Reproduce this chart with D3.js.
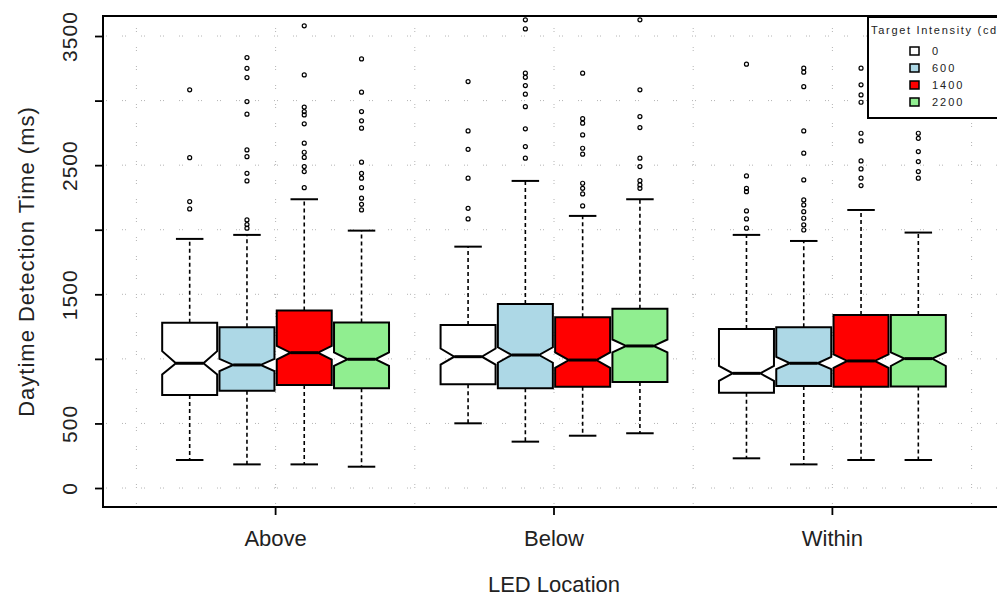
<!DOCTYPE html>
<html>
<head>
<meta charset="utf-8">
<script src="https://cdn.jsdelivr.net/npm/d3@7"></script>
<style>
  body { margin: 0; background: #fff; }
  svg { display: block; font-family: 'Liberation Sans', Arial, sans-serif; }
</style>
</head>
<body>
<svg id="canvas"></svg>
<script>
// values, per location (Above, Below, Within) and intensity (0, 600, 1400, 2200)
const locations = ['Above', 'Below', 'Within']
const intensities = ['0', '600', '1400', '2200']
const boxColors = ['#ffffff', '#add8e6', '#ff0000', '#90ee90']

const lowerWhisker = [[217, 183, 183, 165], [501, 359, 405, 424], [230, 183, 217, 217]]
const lowerQuartile = [[720, 754, 798, 772], [803, 772, 785, 821], [738, 790, 785, 786]]
const medians = [[966, 953, 1048, 997], [1017, 1030, 991, 1100], [888, 966, 984, 1002]]
const upperQuartile = [[1280, 1245, 1374, 1281], [1263, 1425, 1322, 1389], [1232, 1245, 1340, 1340]]
const upperWhisker = [[1929, 1960, 2236, 1993], [1869, 2378, 2107, 2236], [1960, 1913, 2153, 1978]]
const notchLow = [[880, 905, 995, 945], [955, 970, 930, 1050], [830, 920, 930, 945]]
const notchHigh = [[1060, 1000, 1100, 1050], [1080, 1090, 1050, 1150], [945, 1015, 1035, 1050]]

const outliers = [
  [[3083, 2558, 2218, 2161],
   [3333, 3250, 3178, 2992, 2895, 2618, 2566, 2437, 2378, 2076, 2040, 2012],
   [3579, 3199, 2950, 2915, 2889, 2820, 2670, 2600, 2560, 2489, 2450, 2326],
   [3323, 3065, 2915, 2843, 2786, 2523, 2437, 2399, 2326, 2244, 2197, 2153]],
  [[3147, 2765, 2623, 2399, 2166, 2084],
   [3625, 3555, 3212, 3180, 3116, 3050, 2953, 2781, 2644, 2554],
   [3212, 2860, 2825, 2734, 2631, 2585, 2360, 2321, 2277, 2184],
   [3625, 3083, 2876, 2791, 2554, 2489, 2380, 2347, 2321]],
  [[3282, 2417, 2321, 2295, 2146, 2084, 2012],
   [3251, 3220, 3108, 2765, 2593, 2386, 2231, 2192, 2140, 2089, 2037, 1998],
   [3251, 3122, 3044, 2987, 2747, 2688, 2533, 2471, 2399, 2342],
   [2747, 2708, 2605, 2528, 2450, 2399]]
]

const yTickValues = [0, 500, 1000, 1500, 2000, 2500, 3000, 3500]
const yTickLabels = ['0', '500', '', '1500', '', '2500', '', '3500']

const w = 997
const h = 596
const canvas = d3.select('#canvas').attr('width', w).attr('height', h)
const fontFamily = "'Liberation Sans', Arial, sans-serif"

// plot box runs a little past the right edge of the picture, like the reference crop
const x = d3.scaleLinear().domain([0.76, 7.24]).range([103, 1005])
const y = d3.scaleLinear().domain([-147, 3655]).range([507, 16])

const xGroup = d3.scaleBand().domain(locations).range([x(1), x(7)])
const xInner = d3.scaleBand().domain(intensities).range([0, xGroup.bandwidth()])
                 .paddingInner(0.04).paddingOuter(0.45)

const boxes = []
locations.forEach((loc, g) => {
  intensities.forEach((lev, i) => {
    boxes.push({
      loc, lev, color: boxColors[i],
      lw: lowerWhisker[g][i], q1: lowerQuartile[g][i], med: medians[g][i],
      q3: upperQuartile[g][i], uw: upperWhisker[g][i],
      nLo: notchLow[g][i], nHi: notchHigh[g][i], out: outliers[g][i]
    })
  })
})

const cx = b => xGroup(b.loc) + xInner(b.lev) + xInner.bandwidth() / 2
const hw = xInner.bandwidth() / 2
const notchFrac = 0.5

const generateGrid = () => {
  const grid = canvas.append('g')
                     .attr('stroke', '#b4b4b4')
                     .attr('stroke-width', 1)
                     .attr('stroke-dasharray', '1,2,1,15')
  grid.selectAll('.gx')
      .data(x.ticks(7))
      .enter()
      .append('line')
      .attr('x1', d => x(d)).attr('x2', d => x(d))
      .attr('y1', y.range()[0]).attr('y2', y.range()[1])
  grid.selectAll('.gy')
      .data(yTickValues)
      .enter()
      .append('line')
      .attr('x1', x.range()[0]).attr('x2', x.range()[1])
      .attr('y1', d => y(d)).attr('y2', d => y(d))
}

const generateBoxes = () => {
  const g = canvas.append('g')

  // dashed whiskers
  g.selectAll('.whisker')
   .data(boxes.flatMap(b => [[b, b.q3, b.uw], [b, b.q1, b.lw]]))
   .enter()
   .append('line')
   .attr('x1', d => cx(d[0])).attr('x2', d => cx(d[0]))
   .attr('y1', d => y(d[1])).attr('y2', d => y(d[2]))
   .attr('stroke', '#000')
   .attr('stroke-width', 1.6)
   .attr('stroke-dasharray', '4,3')

  // staples
  g.selectAll('.staple')
   .data(boxes.flatMap(b => [[b, b.uw], [b, b.lw]]))
   .enter()
   .append('line')
   .attr('x1', d => cx(d[0]) - hw / 2).attr('x2', d => cx(d[0]) + hw / 2)
   .attr('y1', d => y(d[1])).attr('y2', d => y(d[1]))
   .attr('stroke', '#000')
   .attr('stroke-width', 2)

  // notched boxes
  g.selectAll('.box')
   .data(boxes)
   .enter()
   .append('path')
   .attr('d', b => {
     const c = cx(b)
     const nw = hw * notchFrac
     const pts = [[c - hw, y(b.q1)], [c + hw, y(b.q1)], [c + hw, y(b.nLo)], [c + nw, y(b.med)],
                  [c + hw, y(b.nHi)], [c + hw, y(b.q3)], [c - hw, y(b.q3)], [c - hw, y(b.nHi)],
                  [c - nw, y(b.med)], [c - hw, y(b.nLo)]]
     return d3.line()(pts) + 'Z'
   })
   .attr('fill', b => b.color)
   .attr('stroke', '#000')
   .attr('stroke-width', 2)

  // medians
  g.selectAll('.median')
   .data(boxes)
   .enter()
   .append('line')
   .attr('x1', b => cx(b) - hw * notchFrac).attr('x2', b => cx(b) + hw * notchFrac)
   .attr('y1', b => y(b.med)).attr('y2', b => y(b.med))
   .attr('stroke', '#000')
   .attr('stroke-width', 3)

  // outliers
  g.selectAll('.outlier')
   .data(boxes.flatMap(b => b.out.map(v => [b, v])))
   .enter()
   .append('circle')
   .attr('cx', d => cx(d[0]))
   .attr('cy', d => y(d[1]))
   .attr('r', 2)
   .attr('fill', 'none')
   .attr('stroke', '#000')
   .attr('stroke-width', 1.2)
}

const generateAxes = () => {
  canvas.append('rect')
        .attr('x', x.range()[0]).attr('y', y.range()[1])
        .attr('width', x.range()[1] - x.range()[0])
        .attr('height', y.range()[0] - y.range()[1])
        .attr('fill', 'none')
        .attr('stroke', '#000')
        .attr('stroke-width', 2)

  const yAxis = d3.axisLeft(y)
                  .tickValues(yTickValues)
                  .tickFormat((d, i) => yTickLabels[i])
                  .tickSize(8)
  canvas.append('g')
        .attr('transform', `translate(${x.range()[0]},0)`)
        .call(yAxis)
        .call(a => a.select('.domain').remove())
        .call(a => a.selectAll('line').attr('stroke', '#000').attr('stroke-width', 1.8))
        .selectAll('text')
        .attr('transform', 'rotate(-90)')
        .attr('x', 0).attr('y', -33).attr('dy', '0.35em')
        .attr('text-anchor', 'middle')
        .attr('font-size', 21)
        .attr('font-family', fontFamily)
        .attr('letter-spacing', 1)
        .attr('fill', '#222')

  const xAxis = d3.axisBottom(xGroup).tickSize(8).tickPadding(15)
  canvas.append('g')
        .attr('transform', `translate(0,${y.range()[0]})`)
        .call(xAxis)
        .call(a => a.select('.domain').remove())
        .call(a => a.selectAll('line').attr('stroke', '#000').attr('stroke-width', 1.8))
        .selectAll('text')
        .attr('font-size', 22)
        .attr('font-family', fontFamily)
        .attr('fill', '#222')

  canvas.append('text')
        .attr('x', xGroup('Below') + xGroup.bandwidth() / 2)
        .attr('y', 592)
        .attr('text-anchor', 'middle')
        .attr('font-size', 22)
        .attr('fill', '#222')
        .text('LED Location')

  canvas.append('text')
        .attr('transform', `translate(34,${(y.range()[0] + y.range()[1]) / 2}) rotate(-90)`)
        .attr('text-anchor', 'middle')
        .attr('font-size', 22)
        .attr('letter-spacing', 1)
        .attr('fill', '#222')
        .text('Daytime Detection Time (ms)')
}

const generateLegend = () => {
  const legend = canvas.append('g').attr('transform', 'translate(868,17)')
  legend.append('rect')
        .attr('width', 160).attr('height', 101)
        .attr('fill', '#fff')
        .attr('stroke', '#000')
        .attr('stroke-width', 2)
  // the reference crop cuts this title at the right edge
  legend.append('text')
        .attr('x', 3).attr('y', 17)
        .attr('font-size', 11)
        .attr('letter-spacing', 1.7)
        .attr('fill', '#222')
        .text('Target Intensity (cd/m²)')
  const items = legend.selectAll('.item')
                      .data(intensities)
                      .enter()
                      .append('g')
                      .attr('transform', (d, i) => `translate(0,${34 + i * 17})`)
  items.append('rect')
       .attr('x', 42).attr('y', -4).attr('width', 9).attr('height', 8)
       .attr('fill', (d, i) => boxColors[i])
       .attr('stroke', '#000')
       .attr('stroke-width', 1.5)
  items.append('text')
       .attr('x', 64).attr('dy', '0.36em')
       .attr('font-size', 11)
       .attr('letter-spacing', 2)
       .attr('fill', '#222')
       .text(d => d)
}

generateGrid()
generateBoxes()
generateAxes()
generateLegend()
</script>
</body>
</html>
